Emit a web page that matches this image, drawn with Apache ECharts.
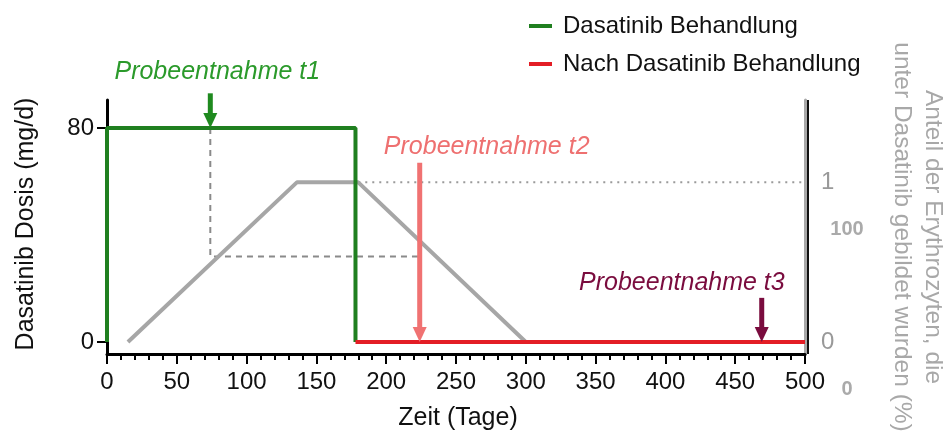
<!DOCTYPE html>
<html>
<head>
<meta charset="utf-8">
<script src="https://cdn.jsdelivr.net/npm/echarts@6/dist/echarts.min.js"></script>
<style>
  html, body { margin: 0; padding: 0; background: #fff; }
  #chart { width: 948px; height: 434px; }
</style>
</head>
<body>
<div id="chart"></div>
<script>
// Dasatinib dose (mg/d) over time (days)
const doseDuring = [[0, 0], [0, 80], [178, 80], [178, 0]];
const doseAfter = [[178, 0], [500, 0]];
// Fraction of erythrocytes formed under dasatinib (right axis, 0..1)
const erythroFraction = [[15, 0], [136, 1], [180, 1], [300, 0]];
const plateauRef = [[180, 1], [500, 1]];
// Guide from sample t1 down to the fraction level and across to t2 (dose units)
const t1Guide = [[74, 80], [74, 32], [224, 32]];

// Sampling time points: day, arrow start and tip (dose units)
const sampleNames = ['Probeentnahme t1', 'Probeentnahme t2', 'Probeentnahme t3'];
const sampleDays = [74, 224, 469];
const arrowFrom = [93, 67, 16.5];
const arrowTo = [80, 0, 0];

// Axis tick labels
const xTicks = [0, 50, 100, 150, 200, 250, 300, 350, 400, 450, 500];
const doseTicks = [0, 80];
const fractionTicks = [0, 1];
const percentTicks = ['100', '0'];

const legendNames = ['Dasatinib Behandlung', 'Nach Dasatinib Behandlung'];
const FONT = '"Liberation Sans", Arial, sans-serif';

const chart = echarts.init(document.getElementById('chart'), null, { renderer: 'canvas' });

const option = {
  animation: false,
  backgroundColor: '#fff',
  textStyle: { fontFamily: FONT },
  grid: { left: 107, right: 143, top: 100, bottom: 80 },
  legend: {
    data: legendNames,
    orient: 'vertical',
    left: 524,
    top: 8,
    icon: 'rect',
    itemWidth: 23,
    itemHeight: 4,
    itemGap: 12,
    textStyle: { fontSize: 24, color: '#111', fontFamily: FONT, lineHeight: 26, padding: [0, 0, 0, 6] }
  },
  xAxis: {
    type: 'value',
    min: xTicks[0],
    max: xTicks[xTicks.length - 1],
    interval: 50,
    axisLine: { show: true, onZero: false, lineStyle: { color: '#000', width: 3 } },
    axisTick: { show: true, length: 10, lineStyle: { color: '#000', width: 2 } },
    minorTick: { show: true, splitNumber: 5, length: 6, lineStyle: { color: '#000', width: 2 } },
    splitLine: { show: false },
    axisLabel: { fontSize: 24, color: '#111', margin: 16, fontFamily: FONT }
  },
  yAxis: [
    {
      type: 'value',
      position: 'left',
      min: -4.5,
      max: 90.5,
      axisLine: { show: true, lineStyle: { color: '#000', width: 3 } },
      axisTick: { show: true, customValues: doseTicks, length: 10, lineStyle: { color: '#000', width: 2 } },
      axisLabel: { customValues: doseTicks, fontSize: 24, color: '#111', margin: 13, fontFamily: FONT },
      splitLine: { show: false }
    },
    {
      type: 'value',
      position: 'right',
      min: -0.0755,
      max: 1.516,
      axisLine: { show: true, lineStyle: { color: '#a8a8a8', width: 3 } },
      axisTick: { show: false },
      axisLabel: { customValues: fractionTicks, fontSize: 24, color: '#999', margin: 16, fontFamily: FONT },
      splitLine: { show: false }
    }
  ],
  series: [
    {
      name: 'Anteil',
      type: 'line',
      yAxisIndex: 1,
      data: erythroFraction,
      showSymbol: false,
      clip: false,
      z: 2,
      lineStyle: { color: '#a6a6a6', width: 4 }
    },
    {
      name: 'plateau',
      type: 'line',
      yAxisIndex: 1,
      data: plateauRef,
      showSymbol: false,
      clip: false,
      z: 1,
      lineStyle: { color: '#9a9a9a', width: 2, type: [2, 5] }
    },
    {
      name: 'guide',
      type: 'line',
      yAxisIndex: 0,
      data: t1Guide,
      showSymbol: false,
      clip: false,
      z: 1,
      lineStyle: { color: '#8a8a8a', width: 2, type: [6, 5] }
    },
    {
      name: legendNames[0],
      type: 'line',
      yAxisIndex: 0,
      data: doseDuring,
      showSymbol: false,
      clip: false,
      z: 4,
      itemStyle: { color: '#1f7f1f' },
      lineStyle: { color: '#1f7f1f', width: 4 }
    },
    {
      name: legendNames[1],
      type: 'line',
      yAxisIndex: 0,
      data: doseAfter,
      showSymbol: false,
      clip: false,
      z: 4,
      itemStyle: { color: '#e31d25' },
      lineStyle: { color: '#e31d25', width: 4 }
    }
  ]
};

chart.setOption(option);

// Annotations placed through the axis scales
const toPx = (x, y) => chart.convertToPixel({ xAxisIndex: 0, yAxisIndex: 0 }, [x, y]);
const toPxR = (x, y) => chart.convertToPixel({ xAxisIndex: 0, yAxisIndex: 1 }, [x, y]);

const sampleColors = ['#1f8a1f', '#f07272', '#7a0c3e'];
const labelColors = ['#2b9a2b', '#ee7070', '#7a0c3e'];
const labelShift = [[7, -21, 'center'], [67, -16, 'center'], [23, -15, 'right']];

const graphics = [];
sampleDays.forEach((day, i) => {
  const a = toPx(day, arrowFrom[i]);
  const b = toPx(day, arrowTo[i]);
  const head = 15;
  const half = 7;
  graphics.push({
    type: 'line', z: 10,
    shape: { x1: a[0], y1: a[1], x2: b[0], y2: b[1] - head + 2 },
    style: { stroke: sampleColors[i], lineWidth: 5 }
  });
  graphics.push({
    type: 'polygon', z: 10,
    shape: { points: [[b[0] - half, b[1] - head], [b[0] + half, b[1] - head], [b[0], b[1]]] },
    style: { fill: sampleColors[i] }
  });
  const s = labelShift[i];
  graphics.push({
    type: 'text', z: 10,
    x: (s[2] === 'right' ? b[0] + s[0] : a[0] + s[0]),
    y: a[1] + s[1],
    style: {
      text: sampleNames[i],
      font: 'italic 25px ' + FONT,
      fill: labelColors[i],
      align: s[2],
      verticalAlign: 'middle'
    }
  });
});

// Axis titles
const xMid = toPx(250, 0)[0];
graphics.push({
  type: 'text', x: xMid + 2, y: 418,
  style: { text: 'Zeit (Tage)', font: '25px ' + FONT, fill: '#111', align: 'center', verticalAlign: 'middle' }
});
graphics.push({
  type: 'text', x: 26, y: 224, rotation: Math.PI / 2,
  style: { text: 'Dasatinib Dosis (mg/d)', font: '25px ' + FONT, fill: '#111', align: 'center', verticalAlign: 'middle' }
});
graphics.push({
  type: 'text', x: 917, y: 237, rotation: -Math.PI / 2,
  style: {
    text: 'Anteil der Erythrozyten, die\nunter Dasatinib gebildet wurden (%)',
    font: '24.5px ' + FONT, fill: '#a8a8a8', align: 'center', verticalAlign: 'middle', lineHeight: 31
  }
});

// Dark edge of the right axis
const rTop = toPxR(500, 1.516);
const rBot = toPxR(500, -0.0755);
graphics.push({
  type: 'line', z: 5,
  shape: { x1: rTop[0] + 3, y1: rTop[1], x2: rBot[0] + 3, y2: rBot[1] },
  style: { stroke: '#111', lineWidth: 2 }
});

// Percent labels of the overlaid scale
const pctY = [229, 389];
percentTicks.forEach((t, i) => {
  graphics.push({
    type: 'text', x: 847, y: pctY[i],
    style: { text: t, font: 'bold 20px ' + FONT, fill: '#aaaaaa', align: 'center', verticalAlign: 'middle' }
  });
});

chart.setOption({ graphic: graphics });
</script>
</body>
</html>
